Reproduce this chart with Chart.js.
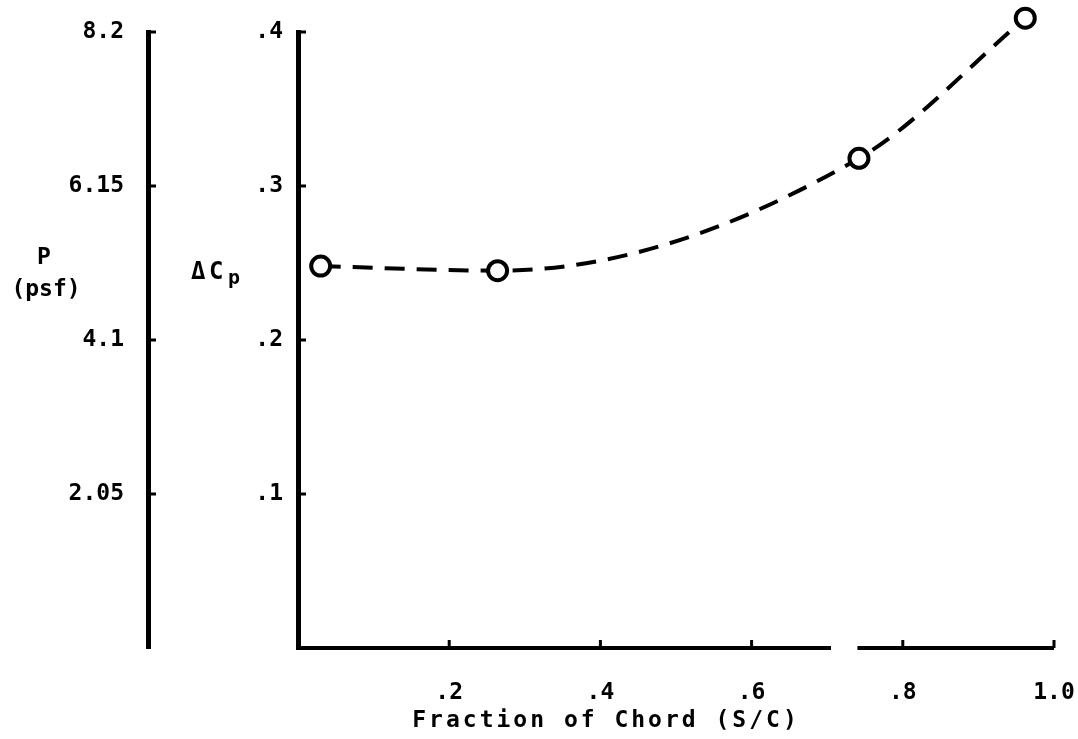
<!DOCTYPE html>
<html>
<head>
<meta charset="utf-8">
<title>Fraction of Chord (S/C)</title>
<script src="https://cdn.jsdelivr.net/npm/chart.js@4/dist/chart.umd.min.js"></script>
<style>
  html, body { margin: 0; padding: 0; background: #fff; }
</style>
</head>
<body>
<canvas id="myChart" width="1078" height="739"></canvas>
<script>
// measured points along the chord
const chordFraction = [0.03, 0.264, 0.742, 0.962];
const deltaCp = [0.248, 0.245, 0.318, 0.409];

// axis ticks and the labels printed beside them
const chordTicks = [0.2, 0.4, 0.6, 0.8, 1.0];
const chordLabels = ['.2', '.4', '.6', '.8', '1.0'];
const cpTicks = [0.1, 0.2, 0.3, 0.4];
const cpLabels = ['.1', '.2', '.3', '.4'];
const psfTicks = [2.05, 4.1, 6.15, 8.2];
const psfLabels = ['2.05', '4.1', '6.15', '8.2'];

// gap in the chord axis
const chordBreak = [0.705, 0.74];

const mono = '"DejaVu Sans Mono", monospace';

function labelFrom(ticks, labels) {
    return function (value) {
        const i = ticks.findIndex(t => Math.abs(t - value) < 1e-6);
        return i < 0 ? '' : labels[i];
    };
}

// chord axis line (with its break), inward tick marks and the axis titles
const axisMarks = {
    id: 'axisMarks',
    afterDraw(chart) {
        const ctx = chart.ctx;
        const x = chart.scales.x, y = chart.scales.y, p = chart.scales.p;
        const base = y.getPixelForValue(0);
        ctx.save();
        ctx.strokeStyle = '#000';
        ctx.fillStyle = '#000';

        ctx.lineWidth = 4;
        ctx.beginPath();
        ctx.moveTo(x.getPixelForValue(0) - 2, base);
        ctx.lineTo(x.getPixelForValue(chordBreak[0]), base);
        ctx.moveTo(x.getPixelForValue(chordBreak[1]), base);
        ctx.lineTo(x.getPixelForValue(1), base);
        ctx.stroke();

        ctx.lineWidth = 3;
        ctx.beginPath();
        chordTicks.forEach(v => {
            const px = x.getPixelForValue(v);
            ctx.moveTo(px, base);
            ctx.lineTo(px, base - 8);
        });
        cpTicks.forEach(v => {
            const py = y.getPixelForValue(v);
            ctx.moveTo(y.right, py);
            ctx.lineTo(y.right + 8, py);
        });
        psfTicks.forEach(v => {
            const py = p.getPixelForValue(v);
            ctx.moveTo(p.right, py);
            ctx.lineTo(p.right + 8, py);
        });
        ctx.stroke();

        // ΔCp title with subscript p
        ctx.textBaseline = 'alphabetic';
        ctx.textAlign = 'left';
        ctx.font = 'bold 24px ' + mono;
        ctx.fillText('\u0394', 191, 279);
        ctx.fillText('C', 209, 279);
        ctx.font = 'bold 20px ' + mono;
        ctx.fillText('p', 228, 284);

        // P (psf) title
        ctx.textAlign = 'center';
        ctx.font = 'bold 23px ' + mono;
        ctx.fillText('P', 44, 264);
        ctx.fillText('(psf)', 46, 296);

        // chord title
        ctx.letterSpacing = '3px';
        ctx.fillText('Fraction of Chord (S/C)', 606, 727);
        ctx.restore();
    }
};

const data = {
    datasets: [{
        label: '\u0394Cp',
        data: chordFraction.map((s, i) => ({ x: s, y: deltaCp[i] })),
        showLine: true,
        borderColor: '#000',
        borderWidth: 4,
        borderDash: [20, 12],
        cubicInterpolationMode: 'monotone',
        pointRadius: 9.5,
        pointHoverRadius: 16,
        pointBorderWidth: 4,
        pointBorderColor: '#000',
        pointBackgroundColor: '#fff',
        clip: false
    }]
};

const tickFont = { family: mono, size: 23, weight: 'bold' };

const config = {
    type: 'scatter',
    data,
    options: {
        responsive: false,
        animation: false,
        events: [],
        layout: { padding: { top: 32, right: 24, bottom: 0, left: 0 } },
        plugins: {
            legend: { display: false },
            tooltip: { enabled: false }
        },
        scales: {
            x: {
                type: 'linear',
                min: 0,
                max: 1,
                afterFit: s => { s.height = 91; s.paddingLeft = 0; s.paddingRight = 0; },
                afterBuildTicks: s => { s.ticks = chordTicks.map(v => ({ value: v })); },
                grid: { display: false, drawTicks: false },
                border: { display: false },
                ticks: {
                    padding: 31,
                    color: '#000',
                    font: tickFont,
                    callback: labelFrom(chordTicks, chordLabels)
                }
            },
            y: {
                position: 'left',
                weight: 0,
                min: 0,
                max: 0.4,
                afterFit: s => { s.width = 150; s.paddingTop = 0; s.paddingBottom = 0; },
                afterBuildTicks: s => { s.ticks = cpTicks.map(v => ({ value: v })); },
                grid: { display: false, drawTicks: false },
                border: { display: true, color: '#000', width: 5 },
                ticks: {
                    padding: 15,
                    color: '#000',
                    font: tickFont,
                    callback: labelFrom(cpTicks, cpLabels)
                }
            },
            p: {
                position: 'left',
                weight: 1,
                min: 0,
                max: 8.2,
                afterFit: s => { s.width = 148; s.paddingTop = 0; s.paddingBottom = 0; },
                afterBuildTicks: s => { s.ticks = psfTicks.map(v => ({ value: v })); },
                grid: { display: false, drawTicks: false },
                border: { display: true, color: '#000', width: 5 },
                ticks: {
                    padding: 24,
                    color: '#000',
                    font: tickFont,
                    callback: labelFrom(psfTicks, psfLabels)
                }
            }
        }
    },
    plugins: [axisMarks]
};

const myChart = new Chart(
    document.getElementById('myChart').getContext('2d'),
    config
);
</script>
</body>
</html>
